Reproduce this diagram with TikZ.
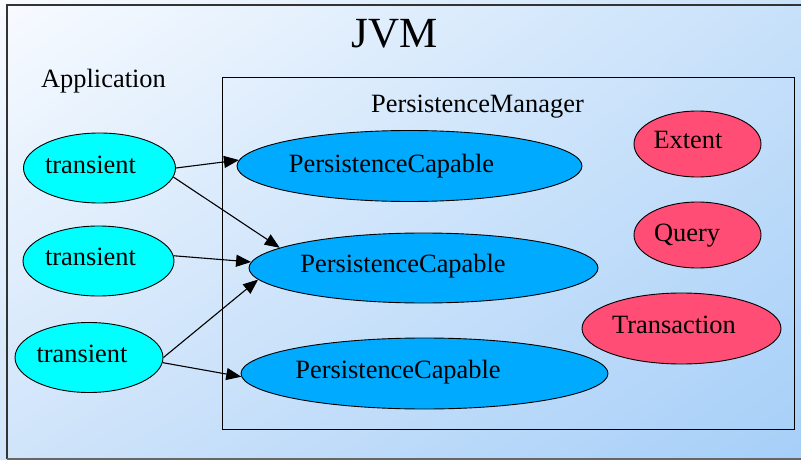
\documentclass[tikz,border=0pt]{standalone}
\usepackage{fontspec}
\setmainfont{Liberation Serif}
\usetikzlibrary{arrows.meta,shapes.geometric,shadings}
\definecolor{bgUL}{RGB}{248,251,255}
\definecolor{bgUR}{RGB}{200,225,250}
\definecolor{bgLL}{RGB}{208,228,250}
\definecolor{bgLR}{RGB}{166,207,248}
\definecolor{tcyan}{RGB}{0,255,255}
\definecolor{pcblue}{RGB}{0,170,255}
\definecolor{svcred}{RGB}{255,77,117}
\begin{document}
\begin{tikzpicture}[x=1pt,y=-1pt,
  oval/.style={ellipse, draw=black, line width=0.9pt, inner sep=0pt},
  trans/.style={oval, fill=tcyan, minimum width=152pt, minimum height=70pt},
  pcap/.style={oval, fill=pcblue, minimum height=71pt},
  svc/.style={oval, fill=svcred, minimum height=66pt},
  lbl/.style={anchor=base, inner sep=0pt, font=\fontsize{26.4}{29}\selectfont},
  arr/.style={line width=1.1pt, -{Triangle[length=15pt,width=12pt]}}]
\useasboundingbox (0,0) rectangle (801,460);
\shade[upper left=bgUL, upper right=bgUR, lower left=bgLL, lower right=bgLR] (0,0) rectangle (801,460);
\draw[line width=1.6pt, color=black!80] (802,5) -- (7,5) -- (7,459);
\draw[line width=1.6pt, color=black!60] (7,459) -- (802,459);
\draw[line width=1pt] (222,78) rectangle (794,429);
% titles
\node[anchor=base, inner sep=0pt, font=\fontsize{43}{46}\selectfont] (jvm) at (394.5,48) {JVM};
\node[lbl] (app) at (103.5,88) {Application};
\node[lbl] (pm) at (477.5,112) {PersistenceManager};
% transient ellipses
\node[trans] (t1) at (99.5,168) {};
\node[trans, minimum width=151pt] (t2) at (98.5,261) {};
\node[trans, minimum width=148pt] (t3) at (89,357.5) {};
\node[lbl] (t1l) at (90.5,173) {transient};
\node[lbl] (t2l) at (90.5,265) {transient};
\node[lbl] (t3l) at (82,362) {transient};
% persistence capable
\node[pcap, minimum width=345pt] (pc1) at (409.5,166) {};
\node[pcap, minimum width=349pt, minimum height=70pt] (pc2) at (423.5,268) {};
\node[pcap, minimum width=367pt] (pc3) at (424.5,373.5) {};
\node[lbl] (pc1l) at (391.5,172) {PersistenceCapable};
\node[lbl] (pc2l) at (403,272) {PersistenceCapable};
\node[lbl] (pc3l) at (398,378) {PersistenceCapable};
% services
\node[svc, minimum width=127pt] (ext) at (697.5,144) {};
\node[svc, minimum width=127pt] (qry) at (697.5,235) {};
\node[svc, minimum width=199pt, minimum height=71pt] (trx) at (681.5,328.5) {};
\node[lbl] (extl) at (688,148) {Extent};
\node[lbl] (qryl) at (687,241) {Query};
\node[lbl] (trxl) at (674,333) {Transaction};
% arrows
\draw[arr] (t1.0) -- (pc1.178);
\draw[arr] (t1.-7) -- (pc2.172);
\draw[arr] (t2.4) -- (pc2.178);
\draw[arr] (t3.0) -- (pc2.-176);
\draw[arr] (t3.-4) -- (pc3.-179);
\end{tikzpicture}
\end{document}
